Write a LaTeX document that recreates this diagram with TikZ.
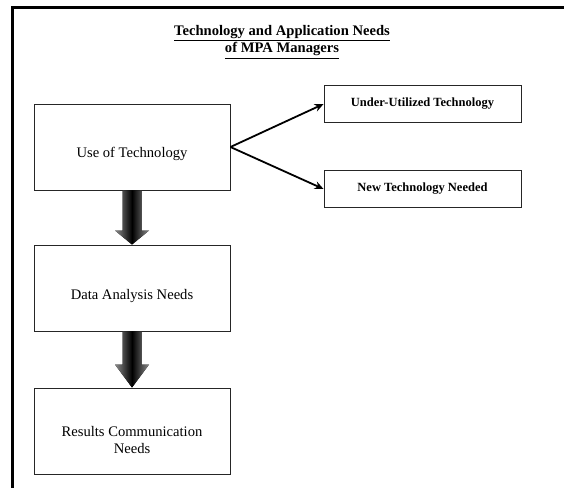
\documentclass[tikz,border=0pt]{standalone}
\usepackage{fontspec}
\setmainfont{Liberation Serif}
\usetikzlibrary{arrows.meta,calc}
\newcommand{\thickul}[1]{\leavevmode\vtop{\hbox{#1}\kern1.6pt\hrule height 1.1pt}}
\begin{document}
\begin{tikzpicture}[x=1pt,y=-1pt,
  box/.style={draw=black!85,line width=0.9pt,minimum width=196pt,minimum height=86pt,inner sep=0pt},
  boxtext/.style={align=center,inner sep=0pt,font=\fontsize{14.6}{17}\selectfont},
  smallbox/.style={draw=black!85,line width=0.9pt,minimum width=197pt,minimum height=37pt,inner sep=2pt,align=center,font=\fontsize{12.5}{14}\selectfont\bfseries},
  conn/.style={line width=1.8pt,-{Stealth[length=9pt,width=8pt]}},
  blockarrow/.style={left color=black!45,right color=black!45,middle color=black},
  frame/.style={line width=2.6pt}
]
\useasboundingbox (0,0) rectangle (564,487);
\coordinate (fa) at (12.5,490);
\coordinate (fb) at (12.5,7.5);
\coordinate (fc) at (570,7.5);
\draw[frame] (fa) -- (fb) -- (fc);

\node[align=center,font=\fontsize{14.6}{17.5}\selectfont\bfseries] (title) at (282,42)
  {\thickul{Technology and Application Needs}\\\thickul{of MPA Managers}};

\node[box] (b1) at (132,147) {};
\node[box] (b2) at (132,288) {};
\node[box] (b3) at (132,431) {};
\node[boxtext] (b1t) at ($(b1.center)+(0,7)$) {Use of Technology};
\node[boxtext] (b2t) at ($(b2.center)+(0,8)$) {Data Analysis Needs};
\node[boxtext] (b3t) at ($(b3.center)+(0,9)$) {Results Communication\\Needs};

\node[smallbox] (ut) at (422.5,104) {Under-Utilized Technology};
\node[smallbox] (nt) at (422.5,189) {New Technology Needed};

\draw[conn] (b1.east) -- (ut.west);
\draw[conn] (b1.east) -- (nt.west);

\fill[blockarrow] ([xshift=-9.5pt]b1.south) -- ([xshift=9.5pt]b1.south)
  -- ([xshift=9.5pt,yshift=14pt]b2.north) -- ([xshift=17pt,yshift=14pt]b2.north)
  -- (b2.north) -- ([xshift=-17pt,yshift=14pt]b2.north)
  -- ([xshift=-9.5pt,yshift=14pt]b2.north) -- cycle;
\fill[blockarrow] ([xshift=-9.5pt]b2.south) -- ([xshift=9.5pt]b2.south)
  -- ([xshift=9.5pt,yshift=23pt]b3.north) -- ([xshift=17pt,yshift=23pt]b3.north)
  -- (b3.north) -- ([xshift=-17pt,yshift=23pt]b3.north)
  -- ([xshift=-9.5pt,yshift=23pt]b3.north) -- cycle;
\end{tikzpicture}
\end{document}
